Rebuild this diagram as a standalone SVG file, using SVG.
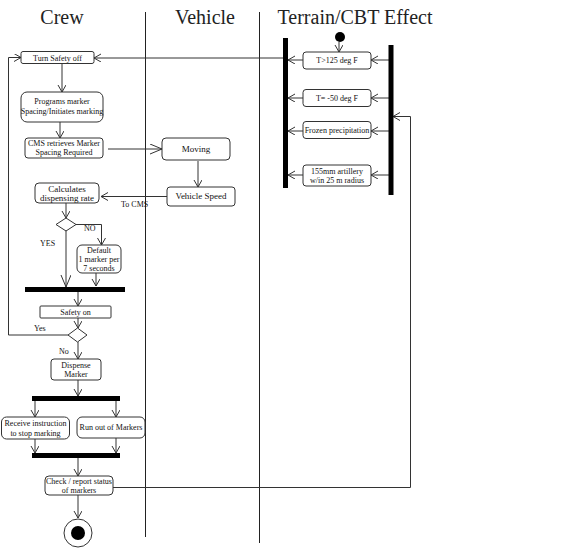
<svg xmlns="http://www.w3.org/2000/svg" width="575" height="551" viewBox="0 0 575 551">
<defs>
<style>
.lane{stroke:#222;stroke-width:1;fill:none}
.hdr{font-family:"Liberation Serif",serif;font-size:20px;fill:#222;text-anchor:middle}
.box{fill:#fff;stroke:#333;stroke-width:1}
.t{font-family:"Liberation Serif",serif;font-size:8px;fill:#111;text-anchor:middle}
.t9{font-family:"Liberation Serif",serif;font-size:9px;fill:#111;text-anchor:middle}
.lbl{font-family:"Liberation Serif",serif;font-size:8px;fill:#111}
.c{stroke:#333;stroke-width:1;fill:none}
.a{marker-end:url(#arr)}
.ab{marker-end:url(#arrBig)}
.bar{fill:#000}
</style>
<marker id="arr" markerUnits="userSpaceOnUse" markerWidth="10" markerHeight="10" refX="7" refY="4" orient="auto" viewBox="0 0 10 10">
<path d="M0,0 L7,4 L0,8" fill="none" stroke="#333" stroke-width="1"/>
</marker>
<marker id="arrBig" markerUnits="userSpaceOnUse" markerWidth="14" markerHeight="12" refX="12" refY="5" orient="auto" viewBox="0 0 14 12">
<path d="M0,0 L12,5 L0,10" fill="none" stroke="#333" stroke-width="1"/>
</marker>
</defs>
<rect width="575" height="551" fill="#fff"/>
<g id="lanes">
<line class="lane" x1="145.5" y1="12" x2="145.5" y2="537"/>
<line class="lane" x1="259.5" y1="12" x2="259.5" y2="543"/>
<text class="hdr" x="62" y="24">Crew</text>
<text class="hdr" x="205" y="24">Vehicle</text>
<text class="hdr" x="355" y="24">Terrain/CBT Effect</text>
</g>
<g id="connectors">
<path class="c a" d="M68,335 L8.5,335 L8.5,57.5 L21,57.5"/>
<path class="c a" d="M283,58 L94,58"/>
<path class="c a" d="M62,63 L62,92"/>
<path class="c a" d="M60,122 L60,138"/>
<path class="c ab" d="M108,149 L162,149"/>
<path class="c a" d="M198,161 L198,187"/>
<path class="c a" d="M167,196.5 L101,196.5"/>
<path class="c a" d="M66,203 L66,218"/>
<path class="c a" d="M76,224.5 L101.5,224.5 L101.5,245"/>
<path class="c ab" d="M66,230 L66,287"/>
<path class="c a" d="M96,273 L96,286"/>
<path class="c a" d="M78,292 L78,306"/>
<path class="c a" d="M78,318 L78,328"/>
<path class="c a" d="M78,342 L78,359"/>
<path class="c a" d="M78,380 L78,396"/>
<path class="c a" d="M35,401 L35,417"/>
<path class="c a" d="M116,401 L116,417"/>
<path class="c a" d="M35,439 L35,453"/>
<path class="c a" d="M116,438 L116,453"/>
<path class="c a" d="M78,458 L78,476"/>
<path class="c a" d="M78,495 L78,518"/>
<path class="c a" d="M113,487.5 L410.5,487.5 L410.5,116.5 L393,116.5"/>
<path class="c a" d="M339,42 L339,52"/>
<path class="c a" d="M389,60 L371,60"/>
<path class="c a" d="M389,98 L371,98"/>
<path class="c a" d="M389,131 L371,131"/>
<path class="c a" d="M389,175 L371,175"/>
<path class="c a" d="M303,60 L288,60"/>
<path class="c a" d="M303,98 L288,98"/>
<path class="c a" d="M303,131 L288,131"/>
<path class="c a" d="M303,175 L288,175"/>
<text class="lbl" x="121" y="207">To CMS</text>
<text class="lbl" x="84" y="231">NO</text>
<text class="lbl" x="40" y="246">YES</text>
<text class="lbl" x="34" y="331">Yes</text>
<text class="lbl" x="59" y="354">No</text>
</g>
<g id="n-turn-safety-off"><rect class="box" x="21" y="51.5" width="73" height="12" rx="2"/><text class="t" x="57.5" y="60.5">Turn Safety off</text></g>
<g id="n-programs"><rect class="box" x="21" y="92" width="82" height="30" rx="6"/><text class="t" x="62" y="104">Programs marker</text><text class="t" x="62" y="114">Spacing/Initiates marking</text></g>
<g id="n-cms"><rect class="box" x="25" y="138" width="78" height="20" rx="3"/><text class="t" x="64" y="146">CMS retrieves Marker</text><text class="t" x="64" y="155">Spacing Required</text></g>
<g id="n-moving"><rect class="box" x="162" y="138" width="68" height="22" rx="4"/><text class="t9" x="196" y="152">Moving</text></g>
<g id="n-vehicle-speed"><rect class="box" x="167" y="187" width="68" height="19" rx="3"/><text class="t9" x="201" y="199">Vehicle Speed</text></g>
<g id="n-calculates"><rect class="box" x="35" y="183" width="64" height="20" rx="4"/><text class="t9" x="67" y="192">Calculates</text><text class="t9" x="67" y="201">dispensing rate</text></g>
<g id="n-decision1"><path class="box" d="M66,218 L76,224.5 L66,231 L56,224.5 Z"/></g>
<g id="n-default"><rect class="box" x="77" y="245" width="44" height="28" rx="5"/><text class="t" x="99" y="253">Default</text><text class="t" x="99" y="262">1 marker per</text><text class="t" x="99" y="271">7 seconds</text></g>
<g id="n-join1"><rect class="bar" x="25" y="287" width="100" height="5"/></g>
<g id="n-safety-on"><rect class="box" x="40" y="306" width="71" height="12" rx="1"/><text class="t" x="75.5" y="315">Safety on</text></g>
<g id="n-decision2"><path class="box" d="M77.5,328 L87,335 L77.5,342 L68,335 Z"/></g>
<g id="n-dispense"><rect class="box" x="51" y="359" width="50" height="21" rx="3"/><text class="t" x="76" y="367.5">Dispense</text><text class="t" x="76" y="377">Marker</text></g>
<g id="n-fork2"><rect class="bar" x="32" y="396" width="88" height="5"/></g>
<g id="n-receive"><rect class="box" x="1.5" y="417" width="68" height="22" rx="5"/><text class="t" x="35.5" y="426">Receive instruction</text><text class="t" x="35.5" y="435.5">to stop marking</text></g>
<g id="n-run-out"><rect class="box" x="77" y="417" width="68" height="21" rx="5"/><text class="t" x="111" y="430">Run out of Markers</text></g>
<g id="n-join3"><rect class="bar" x="32" y="453" width="88" height="5"/></g>
<g id="n-check"><rect class="box" x="45" y="476" width="68" height="19" rx="4"/><text class="t" x="79" y="484">Check / report status</text><text class="t" x="79" y="493">of markers</text></g>
<g id="n-final"><circle cx="78" cy="533" r="14" fill="#fff" stroke="#333" stroke-width="1"/><circle cx="78" cy="533" r="7" fill="#000"/></g>
<g id="n-initial"><circle cx="340" cy="37" r="5" fill="#000"/></g>
<g id="n-bar-left"><rect class="bar" x="283" y="38" width="5" height="150"/></g>
<g id="n-bar-right"><rect class="bar" x="388.5" y="45" width="5" height="150"/></g>
<g id="n-t125"><rect class="box" x="303" y="52" width="68" height="17" rx="3"/><text class="t" x="337" y="63">T&gt;125 deg F</text></g>
<g id="n-tm50"><rect class="box" x="303" y="89.5" width="68" height="17" rx="3"/><text class="t" x="337" y="101">T= -50 deg F</text></g>
<g id="n-frozen"><rect class="box" x="303" y="121.5" width="68" height="17" rx="3"/><text class="t" x="337" y="133">Frozen precipitation</text></g>
<g id="n-artillery"><rect class="box" x="303" y="165" width="68" height="21" rx="3"/><text class="t" x="337" y="173.5">155mm artillery</text><text class="t" x="337" y="183">w/in 25 m radius</text></g>
</svg>
